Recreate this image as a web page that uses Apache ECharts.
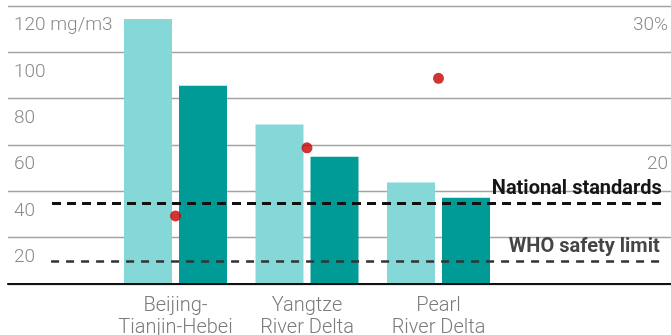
<!DOCTYPE html>
<html>
<head>
<meta charset="utf-8">
<script src="https://cdn.jsdelivr.net/npm/echarts@6/dist/echarts.min.js"></script>
<style>
  html, body { margin: 0; padding: 0; background: #fff; }
  #chart { width: 671px; height: 335px; }
</style>
</head>
<body>
<div id="chart"></div>
<script>
// PM2.5 concentration by region (mg/m3) and percentage change (right scale)
const regions = ['Beijing-\nTianjin-Hebei', 'Yangtze\nRiver Delta', 'Pearl\nRiver Delta'];
const concentrationA = [114.4, 68.8, 43.8];
const concentrationB = [85.6, 54.9, 37.2];
const percentChange = [14.9, 19.8, 24.8];
const leftTicks = { min: 0, max: 120, step: 20, unit: ' mg/m3' };
const rightTicks = { min: 10, max: 30, step: 10 };
const standards = [
  { name: 'National standards', value: 35 },
  { name: 'WHO safety limit', value: 10 }
];

const FONT = 'Roboto, "Noto Sans", sans-serif';
const chart = echarts.init(document.getElementById('chart'), null, { renderer: 'canvas' });

const gridTop = 6, gridHeight = 278;

chart.setOption({
  animation: false,
  backgroundColor: '#ffffff',
  grid: [
    { left: 8, right: 0, top: gridTop, height: gridHeight, outerBoundsMode: 'none', containLabel: false },
    { left: 109.75, width: 394.5, top: gridTop, height: gridHeight, outerBoundsMode: 'none', containLabel: false }
  ],
  xAxis: [
    {
      type: 'value', gridIndex: 0, min: 0, max: 100,
      axisLine: { show: true, onZero: false, lineStyle: { color: '#111', width: 2.2 } },
      axisTick: { show: false }, axisLabel: { show: false }, splitLine: { show: false },
      z: 5
    },
    {
      type: 'category', gridIndex: 1, data: regions,
      axisLine: { show: false }, axisTick: { show: false },
      axisLabel: {
        color: '#7b7b7b', fontFamily: FONT, fontWeight: 300, fontSize: 20,
        lineHeight: 22, margin: 11, interval: 0
      }
    }
  ],
  yAxis: [
    {
      type: 'value', gridIndex: 0, min: leftTicks.min, max: leftTicks.max, interval: leftTicks.step,
      axisLine: { show: false }, axisTick: { show: false },
      splitLine: { lineStyle: { color: '#a3a3a3', width: 1.3 } },
      axisLabel: {
        inside: true, margin: 6, align: 'left', verticalAlign: 'top', padding: [10, 0, 0, 0],
        color: '#8a8a8a', fontFamily: FONT, fontWeight: 300, fontSize: 19,
        formatter: v => v === leftTicks.min ? '' : (v === leftTicks.max ? v + leftTicks.unit : String(v))
      }
    },
    {
      type: 'value', gridIndex: 0, position: 'right',
      min: rightTicks.min, max: rightTicks.max, interval: rightTicks.step,
      axisLine: { show: false }, axisTick: { show: false }, splitLine: { show: false },
      axisLabel: {
        inside: true, margin: 3, align: 'right', verticalAlign: 'top', padding: [10, 0, 0, 0],
        color: '#8a8a8a', fontFamily: FONT, fontWeight: 300, fontSize: 19,
        formatter: v => v === rightTicks.min ? '' : (v === rightTicks.max ? v + '%' : String(v))
      }
    },
    {
      type: 'value', gridIndex: 1, min: leftTicks.min, max: leftTicks.max,
      show: false
    },
    {
      type: 'value', gridIndex: 1, min: rightTicks.min, max: rightTicks.max,
      show: false
    }
  ],
  series: [
    {
      type: 'bar', xAxisIndex: 1, yAxisIndex: 2, data: concentrationA,
      barWidth: 48, barGap: '14.6%',
      itemStyle: { color: '#86d8d8' }, z: 2
    },
    {
      type: 'bar', xAxisIndex: 1, yAxisIndex: 2, data: concentrationB,
      barWidth: 48, barGap: '14.6%',
      itemStyle: { color: '#009a97' }, z: 2
    },
    {
      type: 'scatter', xAxisIndex: 1, yAxisIndex: 3, data: percentChange,
      symbolSize: 11, itemStyle: { color: '#c90000' }, z: 6
    },
    {
      // reference levels drawn across the full plot width
      type: 'line', xAxisIndex: 0, yAxisIndex: 0, data: [],
      markLine: {
        silent: true, symbol: 'none', animation: false,
        data: standards.map((s, i) => [
          {
            coord: [i === 0 ? 6.64 : 6.5, s.value],
            lineStyle: i === 0
              ? { color: '#111', width: 3, type: [9, 6] }
              : { color: '#333', width: 2.6, type: [8, 7] },
            label: {
              show: true, position: 'insideEndTop', formatter: s.name,
              distance: [0, 4],
              color: i === 0 ? '#161616' : '#454545',
              fontFamily: FONT, fontWeight: 'bold', fontSize: 20
            }
          },
          { coord: [i === 0 ? 98.6 : 98.3, s.value] }
        ])
      },
      z: 7
    }
  ]
});
</script>
</body>
</html>
